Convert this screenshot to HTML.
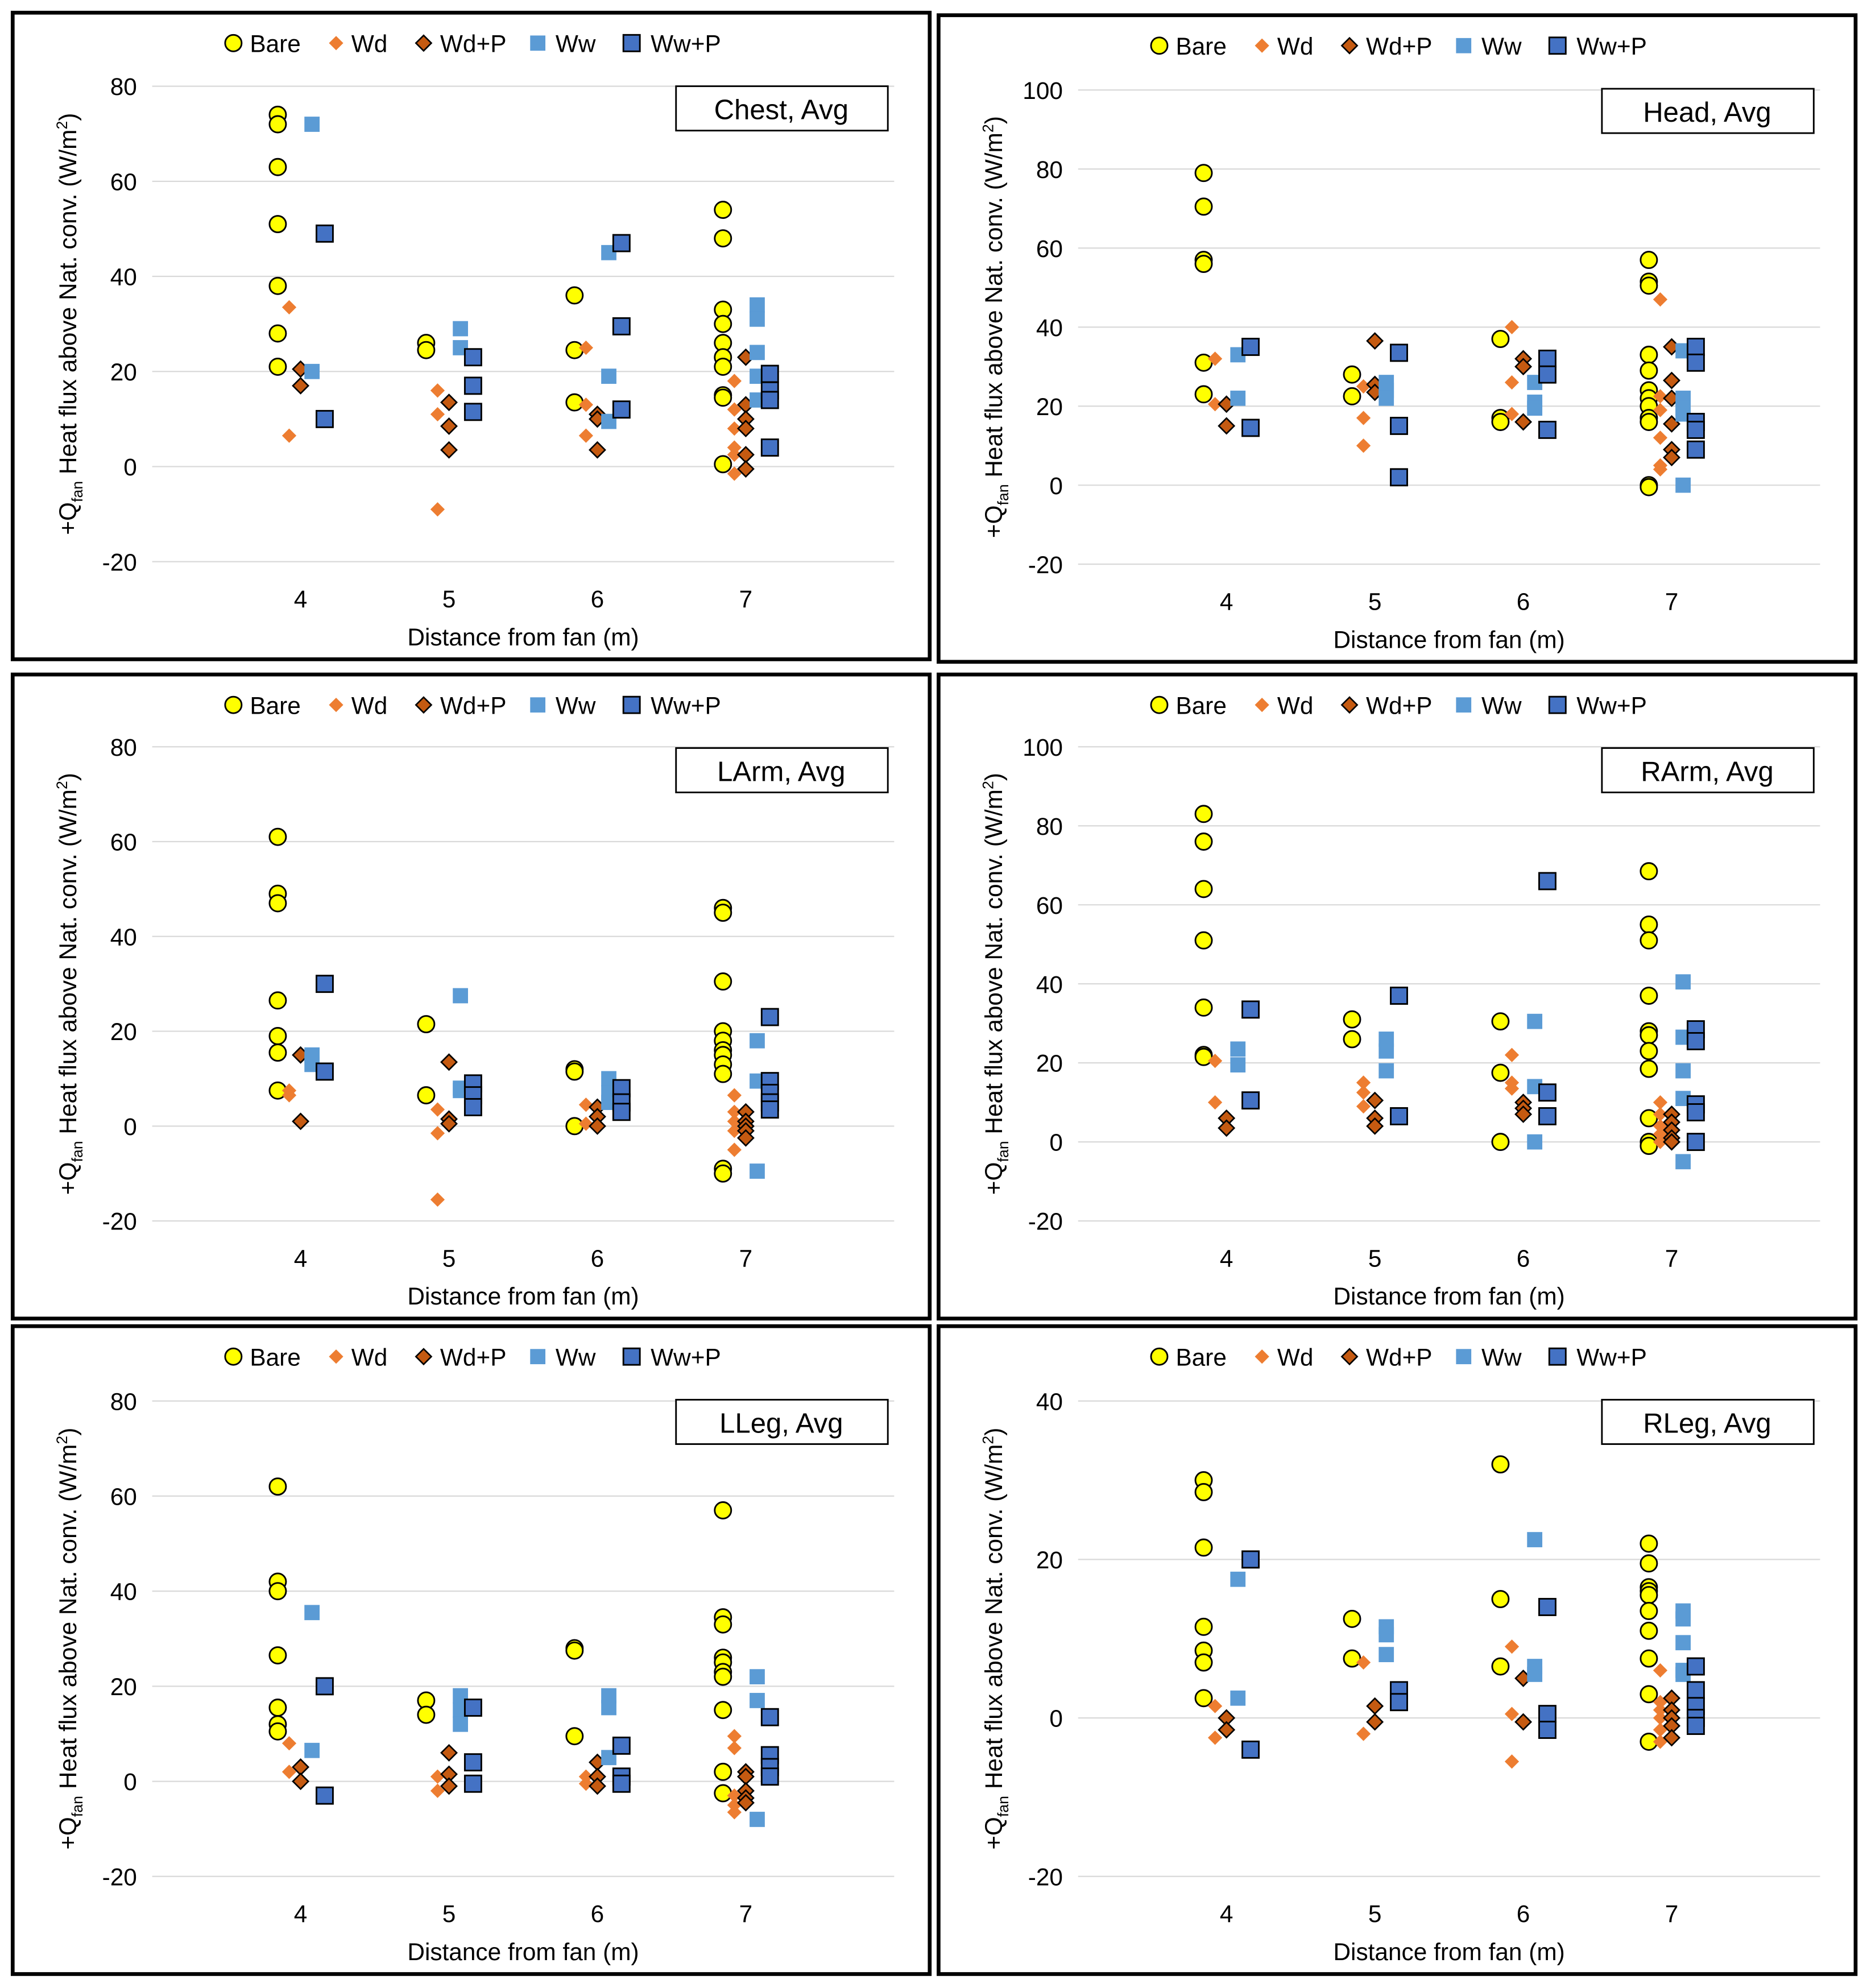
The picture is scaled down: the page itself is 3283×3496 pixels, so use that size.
<!DOCTYPE html>
<html><head><meta charset="utf-8">
<style>
html,body{margin:0;padding:0;background:#fff;}
svg{display:block;}
text{font-family:"Liberation Sans",sans-serif;fill:#000;}
</style></head>
<body>
<svg id="chart" width="3283" height="3496" viewBox="0 0 1472 1568" preserveAspectRatio="none" xmlns="http://www.w3.org/2000/svg"></svg>
<script>
const categories = [4, 5, 6, 7];
const seriesNames = ["Bare", "Wd", "Wd+P", "Ww", "Ww+P"];
const panelTitles = ["Chest, Avg", "Head, Avg", "LArm, Avg", "RArm, Avg", "LLeg, Avg", "RLeg, Avg"];
const yTicks100 = [-20, 0, 20, 40, 60, 80, 100];
const yTicks80 = [-20, 0, 20, 40, 60, 80];
const yTicks40 = [-20, 0, 20, 40];

const chestBare = [[74,72,63,51,38,28,21],[26,24.5],[36,24.5,13.5],[54,48,33,30,26,23,21,15,14.5,0.5]];
const chestWd = [[33.5,6.5],[16,11,-9],[25,13,6.5],[18,12,8,4,2.5,-1.5]];
const chestWdP = [[20.5,17],[13.5,8.5,3.5],[11,10,3.5],[23,13,10,8,2.5,-0.5]];
const chestWw = [[72,20],[29,25],[45,19,9.5],[34,31,24,19,14]];
const chestWwP = [[49,10],[23,17,11.5],[47,29.5,12],[19.5,16,14,4]];

const headBare = [[79,70.5,57,56,31,23],[28,22.5],[37,17,16],[57,51.5,50.5,33,29,24,22,20,17,16,0,-0.5]];
const headWd = [[32,20.5],[25,17,10],[40,26,18],[47,22.5,19,12,5,4]];
const headWdP = [[20.5,15],[36.5,25.5,23.5],[32,30,16],[35,26.5,22,15.5,9,7]];
const headWw = [[33,22],[26,24,22],[26,21,19.5],[34,22,19.5,18,0]];
const headWwP = [[35,14.5],[33.5,15,2],[32,28,14],[35,31,16,14,9]];

const larmBare = [[61,49,47,26.5,19,15.5,7.5],[21.5,6.5],[12,11.5,0],[46,45,30.5,20,18,16,15,13,11,-9,-10]];
const larmWd = [[7.5,6.5],[3.5,-1.5,-15.5],[4.5,0.5],[6.5,3,1,-1,-5]];
const larmWdP = [[15,1],[13.5,1.5,0.5],[4,2,0],[3,1,0,-1,-2.5]];
const larmWw = [[15,13],[27.5,8,7.5],[10,7,5],[18,9.5,-9.5]];
const larmWwP = [[30,11.5],[9,6.5,4],[8,5,3],[23,9.5,7,5,3.5]];

const rarmBare = [[83,76,64,51,34,22,21.5],[31,26],[30.5,17.5,0],[68.5,55,51,37,28,27,23,18.5,6,0,-1]];
const rarmWd = [[20.5,10],[15,12.5,9],[22,15,13.5],[10,7,4,2,0]];
const rarmWdP = [[6,3.5],[10.5,6,4],[10,8.5,7],[7,5,3,1,0]];
const rarmWw = [[23.5,19.5],[26,23,18],[30.5,14,0],[40.5,26.5,18,11,-5]];
const rarmWwP = [[33.5,10.5],[37,6.5],[66,12.5,6.5],[28.5,25.5,9.5,7.5,0]];

const llegBare = [[62,42,40,26.5,15.5,12,10.5],[17,14],[28,27.5,9.5],[57,34.5,33,26,25,23,22,15,2,-2.5]];
const llegWd = [[8,2],[1,-2],[1,-0.5],[9.5,7,-3,-5,-6.5]];
const llegWdP = [[3,0],[6,1.5,-1],[4,1,-1],[2,1,-2,-3.5,-4.5]];
const llegWw = [[35.5,6.5],[18,15,12],[18,15.5,5],[22,17,-8]];
const llegWwP = [[20,-3],[15.5,4,-0.5],[7.5,1,-0.5],[13.5,5.5,3,1]];

const rlegBare = [[30,28.5,21.5,11.5,8.5,7,2.5],[12.5,7.5],[32,15,6.5],[22,19.5,16.5,16,15.5,13.5,11,7.5,3,-3]];
const rlegWd = [[1.5,-2.5],[7,-2],[9,0.5,-5.5],[6,2,1,0,-1.5,-3]];
const rlegWdP = [[0,-1.5],[1.5,-0.5],[5,-0.5],[2.5,1,0,-1,-2.5]];
const rlegWw = [[17.5,2.5],[11.5,10.5,8],[22.5,6.5,5.5],[13.5,12.5,9.5,6,5.5]];
const rlegWwP = [[20,-4],[3.5,2],[14,0.5,-1.5],[6.5,3.5,1.5,0,-1]];

const NS = "http://www.w3.org/2000/svg";
const svg = document.getElementById("chart");
function mk(tag, attrs, parent) {
  const e = document.createElementNS(NS, tag);
  for (const k in attrs) e.setAttribute(k, attrs[k]);
  (parent || svg).appendChild(e);
  return e;
}
const panels = [
  {x:10, y:10, w:723, h:510, top:68, bot:443, yMin:-20, yMax:80, ticks:yTicks80, name:"chest", data:[chestBare,chestWd,chestWdP,chestWw,chestWwP]},
  {x:740, y:12, w:723, h:510, top:71, bot:445, yMin:-20, yMax:100, ticks:yTicks100, name:"head", data:[headBare,headWd,headWdP,headWw,headWwP]},
  {x:10, y:532, w:723, h:508, top:589, bot:963, yMin:-20, yMax:80, ticks:yTicks80, name:"larm", data:[larmBare,larmWd,larmWdP,larmWw,larmWwP]},
  {x:740, y:532, w:723, h:508, top:589, bot:963, yMin:-20, yMax:100, ticks:yTicks100, name:"rarm", data:[rarmBare,rarmWd,rarmWdP,rarmWw,rarmWwP]},
  {x:10, y:1046, w:723, h:511, top:1105, bot:1480, yMin:-20, yMax:80, ticks:yTicks80, name:"lleg", data:[llegBare,llegWd,llegWdP,llegWw,llegWwP]},
  {x:740, y:1046, w:723, h:511, top:1105, bot:1480, yMin:-20, yMax:40, ticks:yTicks40, name:"rleg", data:[rlegBare,rlegWd,rlegWdP,rlegWw,rlegWwP]}
];
const offsets = [-18, -9, 0, 9, 19];

function marker(g, s, cx, cy) {
  let e;
  if (s === 0) e = mk("circle", {cx:cx, cy:cy, r:6.5, fill:"#FFFF00", stroke:"#000", "stroke-width":1.3}, g);
  else if (s === 1) e = mk("rect", {x:cx-4, y:cy-4, width:8, height:8, fill:"#ED7D31", transform:`rotate(45 ${cx} ${cy})`}, g);
  else if (s === 2) e = mk("rect", {x:cx-4.3, y:cy-4.3, width:8.6, height:8.6, fill:"#C55A11", stroke:"#000", "stroke-width":1.2, transform:`rotate(45 ${cx} ${cy})`}, g);
  else if (s === 3) e = mk("rect", {x:cx-6, y:cy-6, width:12, height:12, fill:"#5B9BD5"}, g);
  else e = mk("rect", {x:cx-6.5, y:cy-6.5, width:13, height:13, fill:"#4472C4", stroke:"#000", "stroke-width":1.3}, g);
  return e;
}

panels.forEach((p, pi) => {
  const g = mk("g", {});
  
  
  const frame = mk("rect", {x:p.x, y:p.y, width:p.w, height:p.h, fill:"#fff", stroke:"#000", "stroke-width":3}, g);
  
  
  const L = p.x + 110, R = p.x + 695;
  const xs = v => L + (v - 3) * (R - L) / 5;
  const ys = v => p.bot - (v - p.yMin) * (p.bot - p.top) / (p.yMax - p.yMin);
  p.ticks.forEach(t => {
    const ln = mk("line", {x1:L, x2:R, y1:ys(t), y2:ys(t), stroke:"#D9D9D9", "stroke-width":1}, g);
    
    
    const tx = mk("text", {x:L-12, y:ys(t)+7, "text-anchor":"end", "font-size":19}, g);
    tx.textContent = t;
    
    
  });
  categories.forEach(c => {
    const tx = mk("text", {x:xs(c), y:p.bot+36, "text-anchor":"middle", "font-size":19}, g);
    tx.textContent = c;
    
    
  });
  const xt = mk("text", {x:(L+R)/2, y:p.y+p.h-11, "text-anchor":"middle", "font-size":19}, g);
  xt.textContent = "Distance from fan (m)";
  
  
  const cy = (p.top + p.bot) / 2;
  const yt = mk("text", {x:0, y:0, "text-anchor":"middle", "font-size":19, transform:`translate(${p.x+50} ${cy}) rotate(-90)`}, g);
  yt.innerHTML = '+Q<tspan font-size="12" dy="5">fan</tspan><tspan dy="-5"> Heat flux above Nat. conv. (W/m</tspan><tspan font-size="12" dy="-7">2</tspan><tspan dy="7">)</tspan>';
  
  
  const tb = mk("rect", {x:p.x+523, y:p.y+58, width:167, height:35, fill:"#fff", stroke:"#000", "stroke-width":1.3}, g);
  
  
  const tt = mk("text", {x:p.x+606, y:p.y+84, "text-anchor":"middle", "font-size":22}, g);
  tt.textContent = panelTitles[pi];
  
  
  const legX = [174, 255, 324, 414, 488];
  const legTX = [187, 267, 337, 428, 503];
  seriesNames.forEach((n, s) => {
    const lg = mk("g", {}, g);
    
    
    marker(lg, s, p.x + legX[s], p.y + 24);
    const lt = mk("text", {x:p.x + legTX[s], y:p.y+31, "font-size":19}, lg);
    lt.textContent = n;
  });
  p.data.forEach((ser, s) => {
    const sg = mk("g", {}, g);
    
    
    ser.forEach((vals, ci) => {
      vals.forEach(v => {
        const m = marker(sg, s, xs(categories[ci]) + offsets[s], ys(v));
        
        
      });
    });
  });
});
</script>
</body></html>
